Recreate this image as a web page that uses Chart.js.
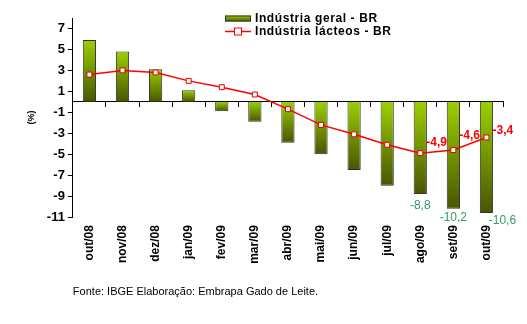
<!DOCTYPE html>
<html><head><meta charset="utf-8">
<script src="https://cdn.jsdelivr.net/npm/chart.js@4/dist/chart.umd.min.js"></script>
<style>html,body{margin:0;padding:0;background:#fff}#wrap{width:527px;height:324px}</style>
</head><body><div id="wrap"><canvas id="c" width="527" height="324"></canvas></div>
<script>
const categories = ['out/08','nov/08','dez/08','jan/09','fev/09','mar/09','abr/09','mai/09','jun/09','jul/09','ago/09','set/09','out/09'];
const industriaGeral = [5.9, 4.8, 3.1, 1.1, -0.9, -1.9, -3.9, -5.0, -6.5, -8.0, -8.8, -10.2, -10.6];
const industriaLacteos = [2.6, 3.0, 2.8, 2.0, 1.4, 0.7, -0.7, -2.2, -3.1, -4.1, -4.9, -4.6, -3.4];
const yTicks = [-11, -9, -7, -5, -3, -1, 1, 3, 5, 7];
const labeledGeral = [10, 11, 12];
const labeledLacteos = [10, 11, 12];

const fmt = v => String(v.toFixed(1)).replace('.', ',');

const labelPlugin = {
  id: 'labels',
  afterDatasetsDraw(chart) {
    const c = chart.ctx;
    const m0 = chart.getDatasetMeta(0), m1 = chart.getDatasetMeta(1);
    c.save();
    c.textBaseline = 'middle';
    c.font = '12px Arial, "Liberation Sans"';
    c.fillStyle = '#339966';
    c.textAlign = 'center';
    const gdx = [0, 0, 16], gdy = [12, 9, 8];
    labeledGeral.forEach((i, k) => {
      const el = m0.data[i];
      c.fillText(fmt(industriaGeral[i]), el.x + gdx[k], el.y + gdy[k]);
    });
    c.font = 'bold 12px Arial, "Liberation Sans"';
    c.fillStyle = '#ff0000';
    c.textAlign = 'left';
    const ldy = [-10, -14, -7];
    labeledLacteos.forEach((i, k) => {
      const el = m1.data[i];
      c.fillText(fmt(industriaLacteos[i]), el.x + 6, el.y + ldy[k]);
    });
    c.restore();
  }
};

const legendPlugin = {
  id: 'customLegend',
  afterDraw(chart) {
    const c = chart.ctx;
    const ds = chart.data.datasets;
    c.save();
    c.font = 'bold 12px Arial, "Liberation Sans"';
    c.letterSpacing = '0.6px';
    c.textBaseline = 'middle';
    c.textAlign = 'left';
    c.fillStyle = '#000';
    let x = 225, y = 18.5;
    const g = c.createLinearGradient(0, y - 3, 0, y + 3);
    g.addColorStop(0, '#99cc00'); g.addColorStop(1, '#4d5e00');
    c.fillStyle = g; c.fillRect(x, y - 3, 26, 6);
    c.strokeStyle = '#333'; c.lineWidth = 1; c.strokeRect(x + 0.5, y - 2.5, 25, 5);
    c.fillStyle = '#000';
    c.fillText(ds[0].label, 255, y);
    y = 31.5;
    c.strokeStyle = '#ff0000'; c.lineWidth = 1.5;
    c.beginPath(); c.moveTo(x, y); c.lineTo(x + 26, y); c.stroke();
    c.fillStyle = '#fff'; c.lineWidth = 1;
    c.fillRect(x + 9.5, y - 3.5, 7, 7); c.strokeRect(x + 9.5, y - 3.5, 7, 7);
    c.fillStyle = '#000';
    c.fillText(ds[1].label, 255, y);
    c.restore();
  }
};

function barGradient(ctx) {
  const chart = ctx.chart;
  if (!chart.chartArea || ctx.type !== 'data') return '#80a800';
  const ys = chart.scales.y;
  const p0 = ys.getPixelForValue(0), p1 = ys.getPixelForValue(ctx.raw);
  const top = Math.min(p0, p1), bot = Math.max(p0, p1);
  const g = chart.ctx.createLinearGradient(0, top, 0, bot + 0.01);
  g.addColorStop(0, '#9ccf00');
  g.addColorStop(1, '#485600');
  return g;
}

new Chart(document.getElementById('c'), {
  data: {
    labels: categories,
    datasets: [
      { type: 'bar', label: 'Indústria geral - BR', data: industriaGeral,
        backgroundColor: barGradient, borderColor: '#333', borderWidth: 1,
        barPercentage: 0.4, categoryPercentage: 1, xAxisID: 'x', order: 2 },
      { type: 'line', label: 'Indústria lácteos - BR', data: industriaLacteos,
        borderColor: '#ff0000', borderWidth: 1.5, tension: 0,
        pointStyle: 'rect', pointRadius: 3.5, pointBackgroundColor: '#fff',
        pointBorderColor: '#e00000', pointBorderWidth: 1, xAxisID: 'x', order: 1 }
    ]
  },
  options: {
    responsive: false, animation: false,
    layout: { padding: { top: 18, right: 24, left: 26, bottom: 25 } },
    plugins: {
      legend: { display: false }, tooltip: { enabled: false },
      title: { display: true, position: 'bottom', align: 'start', fullSize: false,
        text: 'Fonte: IBGE Elaboração: Embrapa Gado de Leite.',
        color: '#000', font: { family: 'Arial, "Liberation Sans"', size: 11, weight: 'normal' },
        padding: { top: 22, bottom: 0 } }
    },
    scales: {
      x: { type: 'category', position: 'bottom', offset: true,
        grid: { display: false }, border: { display: false },
        ticks: { color: '#000', maxRotation: 90, minRotation: 90, padding: 0,
          font: { family: 'Arial, "Liberation Sans"', size: 12, weight: 'bold' } } },
      x0: { type: 'category', labels: categories, position: { y: 0 }, offset: true,
        grid: { display: true, drawOnChartArea: false, drawTicks: true, tickLength: 5, color: '#000', offset: true },
        border: { display: true, color: '#000', width: 1 },
        ticks: { display: false } },
      y: { type: 'linear', min: -11, max: 8,
        afterBuildTicks: s => { s.ticks = yTicks.map(v => ({ value: v })); },
        grid: { display: true, drawOnChartArea: false, drawTicks: true, tickLength: 5, color: '#000' },
        border: { display: true, color: '#000', width: 1 },
        title: { display: true, text: '(%)', color: '#000', padding: { top: 0, bottom: 7 },
          font: { family: 'Arial, "Liberation Sans"', size: 9, weight: 'bold' } },
        ticks: { color: '#000', padding: 3, font: { family: 'Arial, "Liberation Sans"', size: 13, weight: 'bold' } } }
    }
  },
  plugins: [labelPlugin, legendPlugin]
});
</script></body></html>
